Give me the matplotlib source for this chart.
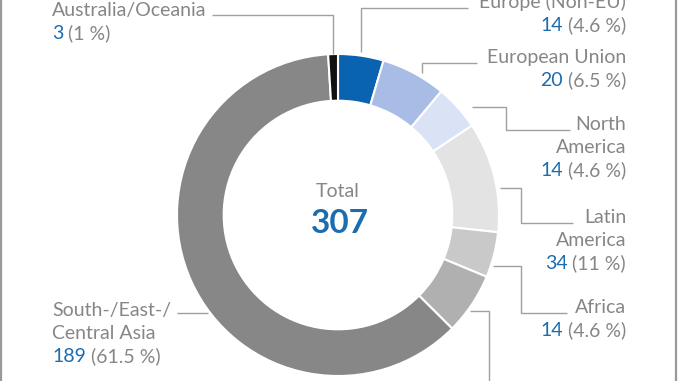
import matplotlib
matplotlib.use("Agg")
import matplotlib.pyplot as plt
from matplotlib.lines import Line2D

# data, clockwise from 12 o'clock
regions = ["Europe (Non-EU)", "European Union", "North\nAmerica", "Latin\nAmerica",
           "Africa", "Middle East", "South-/East-/\nCentral Asia", "Australia/Oceania"]
counts = [14, 20, 14, 34, 14, 19, 189, 3]
shares = ["4.6", "6.5", "4.6", "11", "4.6", "6.2", "61.5", "1"]
total = 307

colors = ["#0a63b0", "#a9bce6", "#dae2f5", "#e3e3e3", "#c9c9c9", "#b0b0b0", "#878787", "#111111"]
GREY_TXT = "#868686"
BLUE_TXT = "#1c6cb0"
LINE = "#a0a0a0"
FONT = "Lato"

W, H = 678, 381
fig = plt.figure(figsize=(W / 100, H / 100), dpi=100)
ax = fig.add_axes([0, 0, 1, 1])

cx, cy, R = 338, 215, 161
wedges, _ = ax.pie(counts, colors=colors, startangle=90, counterclock=False,
                   center=(cx, -cy), radius=R,
                   wedgeprops=dict(width=R * 0.29, edgecolor="white", linewidth=1.5))
# pie draws in y-up space; flip it into our y-down axes
for w in wedges:
    w.set_center((cx, cy))
    t1, t2 = w.theta1, w.theta2
    w.set_theta1(-t2)
    w.set_theta2(-t1)

ax.set_xlim(0, W)
ax.set_ylim(H, 0)   # pixel coords, origin top-left
ax.set_aspect("equal")
ax.axis("off")

# leader lines (pixel layout)
leaders = [
    [(361, 52), (361, 8), (468, 8)],
    [(422, 73), (422, 63), (477, 63)],
    [(472, 107), (506, 107), (506, 130), (570, 130)],
    [(500, 188), (521, 188), (521, 223), (573, 223)],
    [(493, 266), (521, 266), (521, 313), (567, 313)],
    [(470, 311), (489, 311), (489, 395)],
    [(208, 313), (177, 313)],
    [(333, 54), (333, 15), (212, 15)],
]
for pts in leaders:
    xs, ys = zip(*pts)
    ax.plot(xs, ys, color=LINE, lw=1.0, solid_capstyle="butt")

# label anchors: (x, first baseline, alignment); Middle East sits below the crop
anchors = [
    (626, 8, "right"), (626, 63, "right"), (626, 130, "right"), (626, 223, "right"),
    (626, 313, "right"), (498, 430, "left"), (52, 316, "left"), (52, 16, "left"),
]
LS = 23
fs = 14

fig.canvas.draw()
rend = fig.canvas.get_renderer()
inv = ax.transData.inverted()

for name, n, pct, (x, y0, ha) in zip(regions, counts, shares, anchors):
    lines = name.split("\n")
    for i, ln in enumerate(lines):
        ax.text(x, y0 + i * LS, ln, ha=ha, va="baseline", fontsize=fs,
                color=GREY_TXT, family=FONT)
    yv = y0 + len(lines) * LS
    if ha == "right":
        t = ax.text(x, yv, " (%s %%)" % pct, ha="right", va="baseline", fontsize=fs,
                    color=GREY_TXT, family=FONT)
        bb = t.get_window_extent(rend)
        xl = inv.transform((bb.x0, bb.y0))[0]
        ax.text(xl, yv, str(n), ha="right", va="baseline", fontsize=fs,
                color=BLUE_TXT, family=FONT)
    else:
        t = ax.text(x, yv, str(n), ha="left", va="baseline", fontsize=fs,
                    color=BLUE_TXT, family=FONT)
        bb = t.get_window_extent(rend)
        xr = inv.transform((bb.x1, bb.y0))[0]
        ax.text(xr, yv, " (%s %%)" % pct, ha="left", va="baseline", fontsize=fs,
                color=GREY_TXT, family=FONT)

ax.text(cx, 197, "Total", ha="center", va="baseline", fontsize=fs, color=GREY_TXT, family=FONT)
ax.text(cx + 2, 233, str(total), ha="center", va="baseline", fontsize=24,
        color=BLUE_TXT, family=FONT, fontweight="bold")

# frame lines at the left and right edges
fig.add_artist(Line2D([1 / W, 1 / W], [0, 1], color="#9a9a9a", lw=1.6))
fig.add_artist(Line2D([1 - 2 / W, 1 - 2 / W], [0, 1], color="#9a9a9a", lw=1.6))

fig.savefig("out.png", dpi=100)
